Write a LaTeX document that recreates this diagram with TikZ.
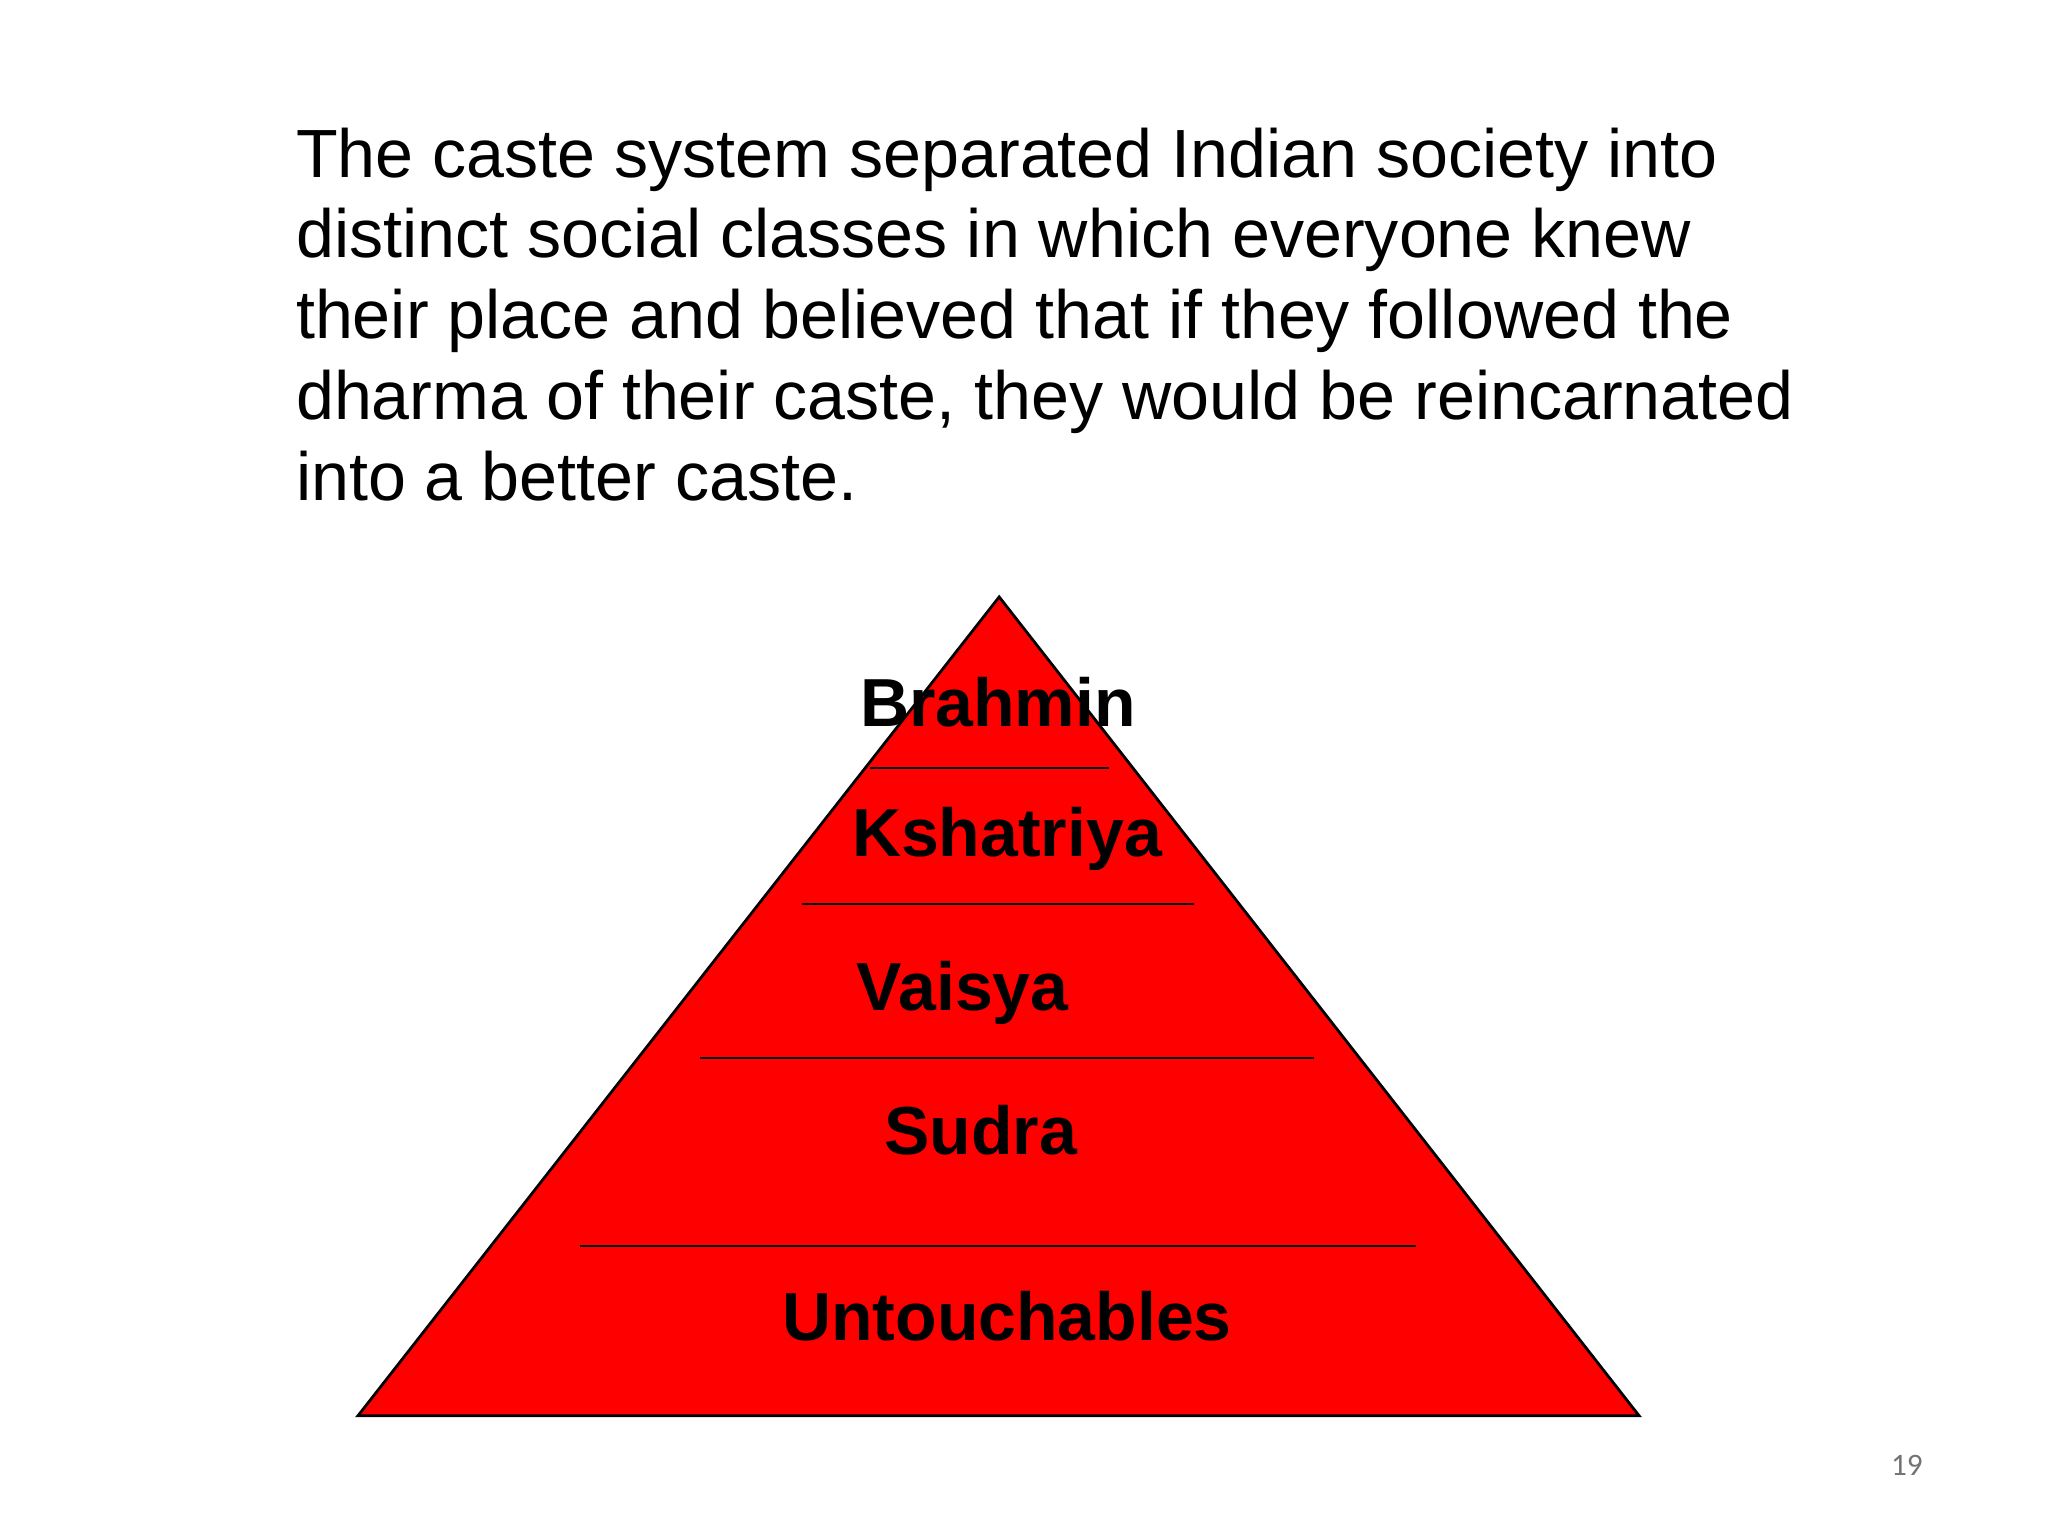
\documentclass[tikz,border=0pt]{standalone}
\usepackage{fontspec}
\setmainfont{Liberation Sans}
\newfontfamily\carl{Carlito}
\definecolor{pyr}{RGB}{255,0,0}
\begin{document}
\begin{tikzpicture}[x=0.01cm,y=-0.01cm,
  lab/.style={font=\fontsize{14.8pt}{17pt}\selectfont\bfseries,inner sep=0},
  sep/.style={line width=0.5pt}]
\useasboundingbox (0,0) rectangle (1568,1176);
\node[anchor=north west,inner sep=0,align=left,font=\fontsize{14.85pt}{17.6pt}\selectfont] (para) at (226,97)
{The caste system separated Indian society into\\distinct social classes in which everyone knew\\their place and believed that if they followed the\\dharma of their caste, they would be reincarnated\\into a better caste.};
\coordinate (apex) at (765,457);
\coordinate (bl) at (274,1084);
\coordinate (br) at (1255,1084);
\fill[pyr,draw=black,line width=0.6pt] (apex) -- (br) -- (bl) -- cycle;
\foreach \y/\a/\b in {588/666/849,692/614/914,810/536/1006,954/444/1084}
  \draw[sep] (\a,\y) -- (\b,\y);
\node[lab] (b) at (764,538) {Brahmin};
\node[lab] (k) at (771,642) {Kshatriya};
\node[lab] (v) at (737,760) {Vaisya};
\node[lab] (s) at (751,865) {Sudra};
\node[lab] (u) at (771,1008) {Untouchables};
\node[font=\carl\fontsize{6.8pt}{8pt}\selectfont,text=black!55,inner sep=0] (pg) at (1460,1122) {19};
\end{tikzpicture}
\end{document}
